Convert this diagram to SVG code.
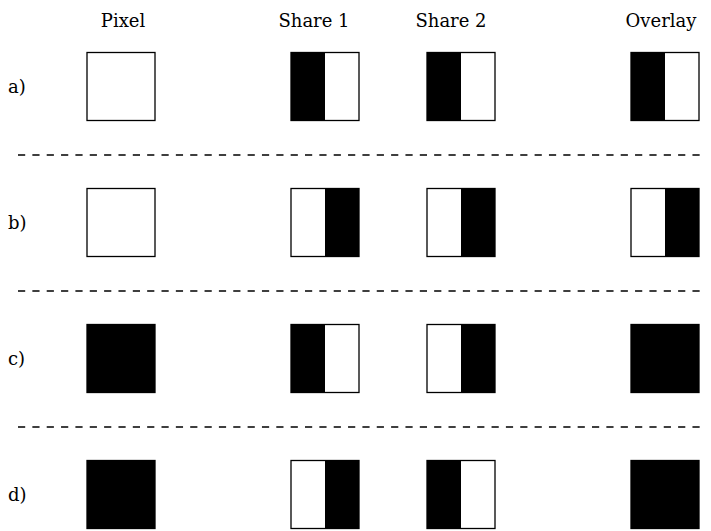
<svg xmlns="http://www.w3.org/2000/svg" width="711" height="531" viewBox="0 0 711 531">
<style>
text{font-family:'DejaVu Serif',serif;font-size:18px;fill:#000}
.hdr{text-anchor:middle}
.box{fill:#fff;stroke:#000;stroke-width:1.3}
.blk{fill:#000;stroke:#000;stroke-width:1.3}
.half{fill:#000;stroke:none}
.sep{stroke:#000;stroke-width:1.5;stroke-dasharray:7.2 7.15;fill:none}
</style>
<rect width="711" height="531" fill="#fff"/>
<g id="headers">
<text class="hdr" x="123" y="27">Pixel</text>
<text class="hdr" x="314" y="27">Share 1</text>
<text class="hdr" x="451" y="27">Share 2</text>
<text class="hdr" x="661" y="27">Overlay</text>
</g>
<g id="row-labels">
<text x="8" y="93">a)</text>
<text x="8" y="229">b)</text>
<text x="8" y="365">c)</text>
<text x="8" y="501">d)</text>
</g>
<g id="connectors">
<line class="sep" x1="18" y1="155" x2="700" y2="155"/>
<line class="sep" x1="18" y1="291" x2="700" y2="291"/>
<line class="sep" x1="18" y1="427" x2="700" y2="427"/>
</g>
<g id="row-a">
<g id="a-pixel"><rect class="box" x="87" y="52.5" width="68" height="68"/></g>
<g id="a-share1"><rect class="box" x="291" y="52.5" width="68" height="68"/><rect class="half" x="291" y="52.5" width="34" height="68"/></g>
<g id="a-share2"><rect class="box" x="427" y="52.5" width="68" height="68"/><rect class="half" x="427" y="52.5" width="34" height="68"/></g>
<g id="a-overlay"><rect class="box" x="631" y="52.5" width="68" height="68"/><rect class="half" x="631" y="52.5" width="34" height="68"/></g>
</g>
<g id="row-b">
<g id="b-pixel"><rect class="box" x="87" y="188.5" width="68" height="68"/></g>
<g id="b-share1"><rect class="box" x="291" y="188.5" width="68" height="68"/><rect class="half" x="325" y="188.5" width="34" height="68"/></g>
<g id="b-share2"><rect class="box" x="427" y="188.5" width="68" height="68"/><rect class="half" x="461" y="188.5" width="34" height="68"/></g>
<g id="b-overlay"><rect class="box" x="631" y="188.5" width="68" height="68"/><rect class="half" x="665" y="188.5" width="34" height="68"/></g>
</g>
<g id="row-c">
<g id="c-pixel"><rect class="blk" x="87" y="324.5" width="68" height="68"/></g>
<g id="c-share1"><rect class="box" x="291" y="324.5" width="68" height="68"/><rect class="half" x="291" y="324.5" width="34" height="68"/></g>
<g id="c-share2"><rect class="box" x="427" y="324.5" width="68" height="68"/><rect class="half" x="461" y="324.5" width="34" height="68"/></g>
<g id="c-overlay"><rect class="blk" x="631" y="324.5" width="68" height="68"/></g>
</g>
<g id="row-d">
<g id="d-pixel"><rect class="blk" x="87" y="460.5" width="68" height="68"/></g>
<g id="d-share1"><rect class="box" x="291" y="460.5" width="68" height="68"/><rect class="half" x="325" y="460.5" width="34" height="68"/></g>
<g id="d-share2"><rect class="box" x="427" y="460.5" width="68" height="68"/><rect class="half" x="427" y="460.5" width="34" height="68"/></g>
<g id="d-overlay"><rect class="blk" x="631" y="460.5" width="68" height="68"/></g>
</g>
</svg>
